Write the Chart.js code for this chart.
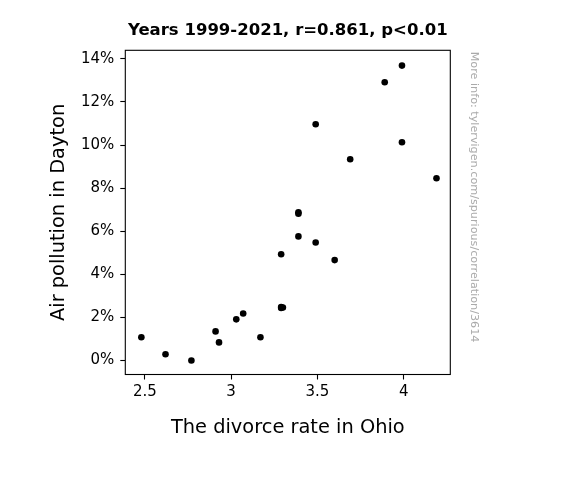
<!DOCTYPE html>
<html>
<head>
<meta charset="utf-8">
<script src="https://cdn.jsdelivr.net/npm/chart.js@4"></script>
<style>
  html, body { margin: 0; padding: 0; background: #fff; }
  canvas { display: block; }
</style>
</head>
<body>
<canvas id="grafico" width="575" height="500"></canvas>
<script>
/* ============================
   DATI
============================ */

const titolo = 'Years 1999-2021, r=0.861, p<0.01';
const etichettaX = 'The divorce rate in Ohio';
const etichettaY = 'Air pollution in Dayton';
const nota = 'More info: tylervigen.com/spurious/correlation/3614';

// divorce rate in Ohio (x) and air pollution in Dayton, % (y)
const divorceRate = [2.48, 2.62, 2.77, 2.91, 2.93, 3.03, 3.07, 3.17, 3.29, 3.29, 3.30, 3.29,
  3.39, 3.39, 3.39, 3.49, 3.49, 3.60, 3.69, 3.89, 3.99, 3.99, 4.19];
const airPollution = [1.08, 0.29, 0.00, 1.35, 0.84, 1.91, 2.18, 1.08, 2.44, 2.48, 2.46, 4.93,
  6.88, 6.81, 5.76, 5.48, 10.97, 4.66, 9.34, 12.92, 13.69, 10.13, 8.46];

const xTicks = [2.5, 3, 3.5, 4];
const yTicks = [0, 2, 4, 6, 8, 10, 12, 14];

/* ============================
   PLUGIN: cornice + nota laterale
============================ */

const cornice = {
  id: 'cornice',
  afterDatasetsDraw(chart) {
    const { ctx, chartArea: a } = chart;
    ctx.save();
    ctx.strokeStyle = '#000';
    ctx.lineWidth = 1.1;
    ctx.strokeRect(a.left, a.top, a.right - a.left, a.bottom - a.top);
    ctx.restore();
  },
  afterDraw(chart) {
    const { ctx } = chart;
    ctx.save();
    ctx.translate(474, 51.7);
    ctx.rotate(Math.PI / 2);
    ctx.fillStyle = '#aaaaaa';
    ctx.font = '11.2px "DejaVu Sans"';
    ctx.textAlign = 'left';
    ctx.textBaseline = 'middle';
    ctx.fillText(nota, 0, 0);
    ctx.restore();
  }
};

const sfondo = {
  id: 'sfondo',
  beforeDraw(chart) {
    const { ctx } = chart;
    ctx.save();
    ctx.fillStyle = '#fff';
    ctx.fillRect(0, 0, chart.width, chart.height);
    ctx.restore();
  }
};

/* ============================
   GRAFICO
============================ */

Chart.defaults.font.family = '"DejaVu Sans", sans-serif';
Chart.defaults.color = '#000';

const punti = divorceRate.map((x, i) => ({ x, y: airPollution[i] }));

new Chart(document.getElementById('grafico'), {
  type: 'scatter',
  data: {
    datasets: [{
      data: punti,
      backgroundColor: '#000',
      borderWidth: 0,
      pointRadius: 3.3,
      pointHoverRadius: 3.3
    }]
  },
  plugins: [sfondo, cornice],
  options: {
    responsive: false,
    animation: false,
    events: [],
    layout: { padding: { left: 0, right: 124.7, top: 0, bottom: 0 } },
    plugins: {
      legend: { display: false },
      tooltip: { enabled: false },
      title: {
        display: true,
        text: titolo,
        fullSize: false,
        color: '#000',
        font: { size: 16.5, weight: 'bold' },
        padding: { top: 21, bottom: 9.5 }
      }
    },
    scales: {
      x: {
        type: 'linear',
        min: 2.387,
        max: 4.270,
        afterFit: s => { s.height = 125.5; },
        afterBuildTicks: s => { s.ticks = xTicks.map(v => ({ value: v })); },
        border: { display: false },
        grid: { drawOnChartArea: false, drawTicks: true, tickLength: 5, tickColor: '#000', tickWidth: 1.1 },
        ticks: { font: { size: 15 }, padding: 4, maxRotation: 0, callback: v => String(v) },
        title: {
          display: true,
          text: etichettaX,
          font: { size: 19.4 },
          padding: { top: 0, bottom: 60 }
        }
      },
      y: {
        type: 'linear',
        min: -0.65,
        max: 14.40,
        afterFit: s => { s.width = 125.3; },
        afterBuildTicks: s => { s.ticks = yTicks.map(v => ({ value: v })); },
        border: { display: false },
        grid: { drawOnChartArea: false, drawTicks: true, tickLength: 5, tickColor: '#000', tickWidth: 1.1 },
        ticks: { font: { size: 15 }, padding: 6, callback: v => v + '%' },
        title: {
          display: true,
          text: etichettaY,
          font: { size: 19.4 },
          padding: { top: 47.8, bottom: 0 }
        }
      }
    }
  }
});
</script>
</body>
</html>
